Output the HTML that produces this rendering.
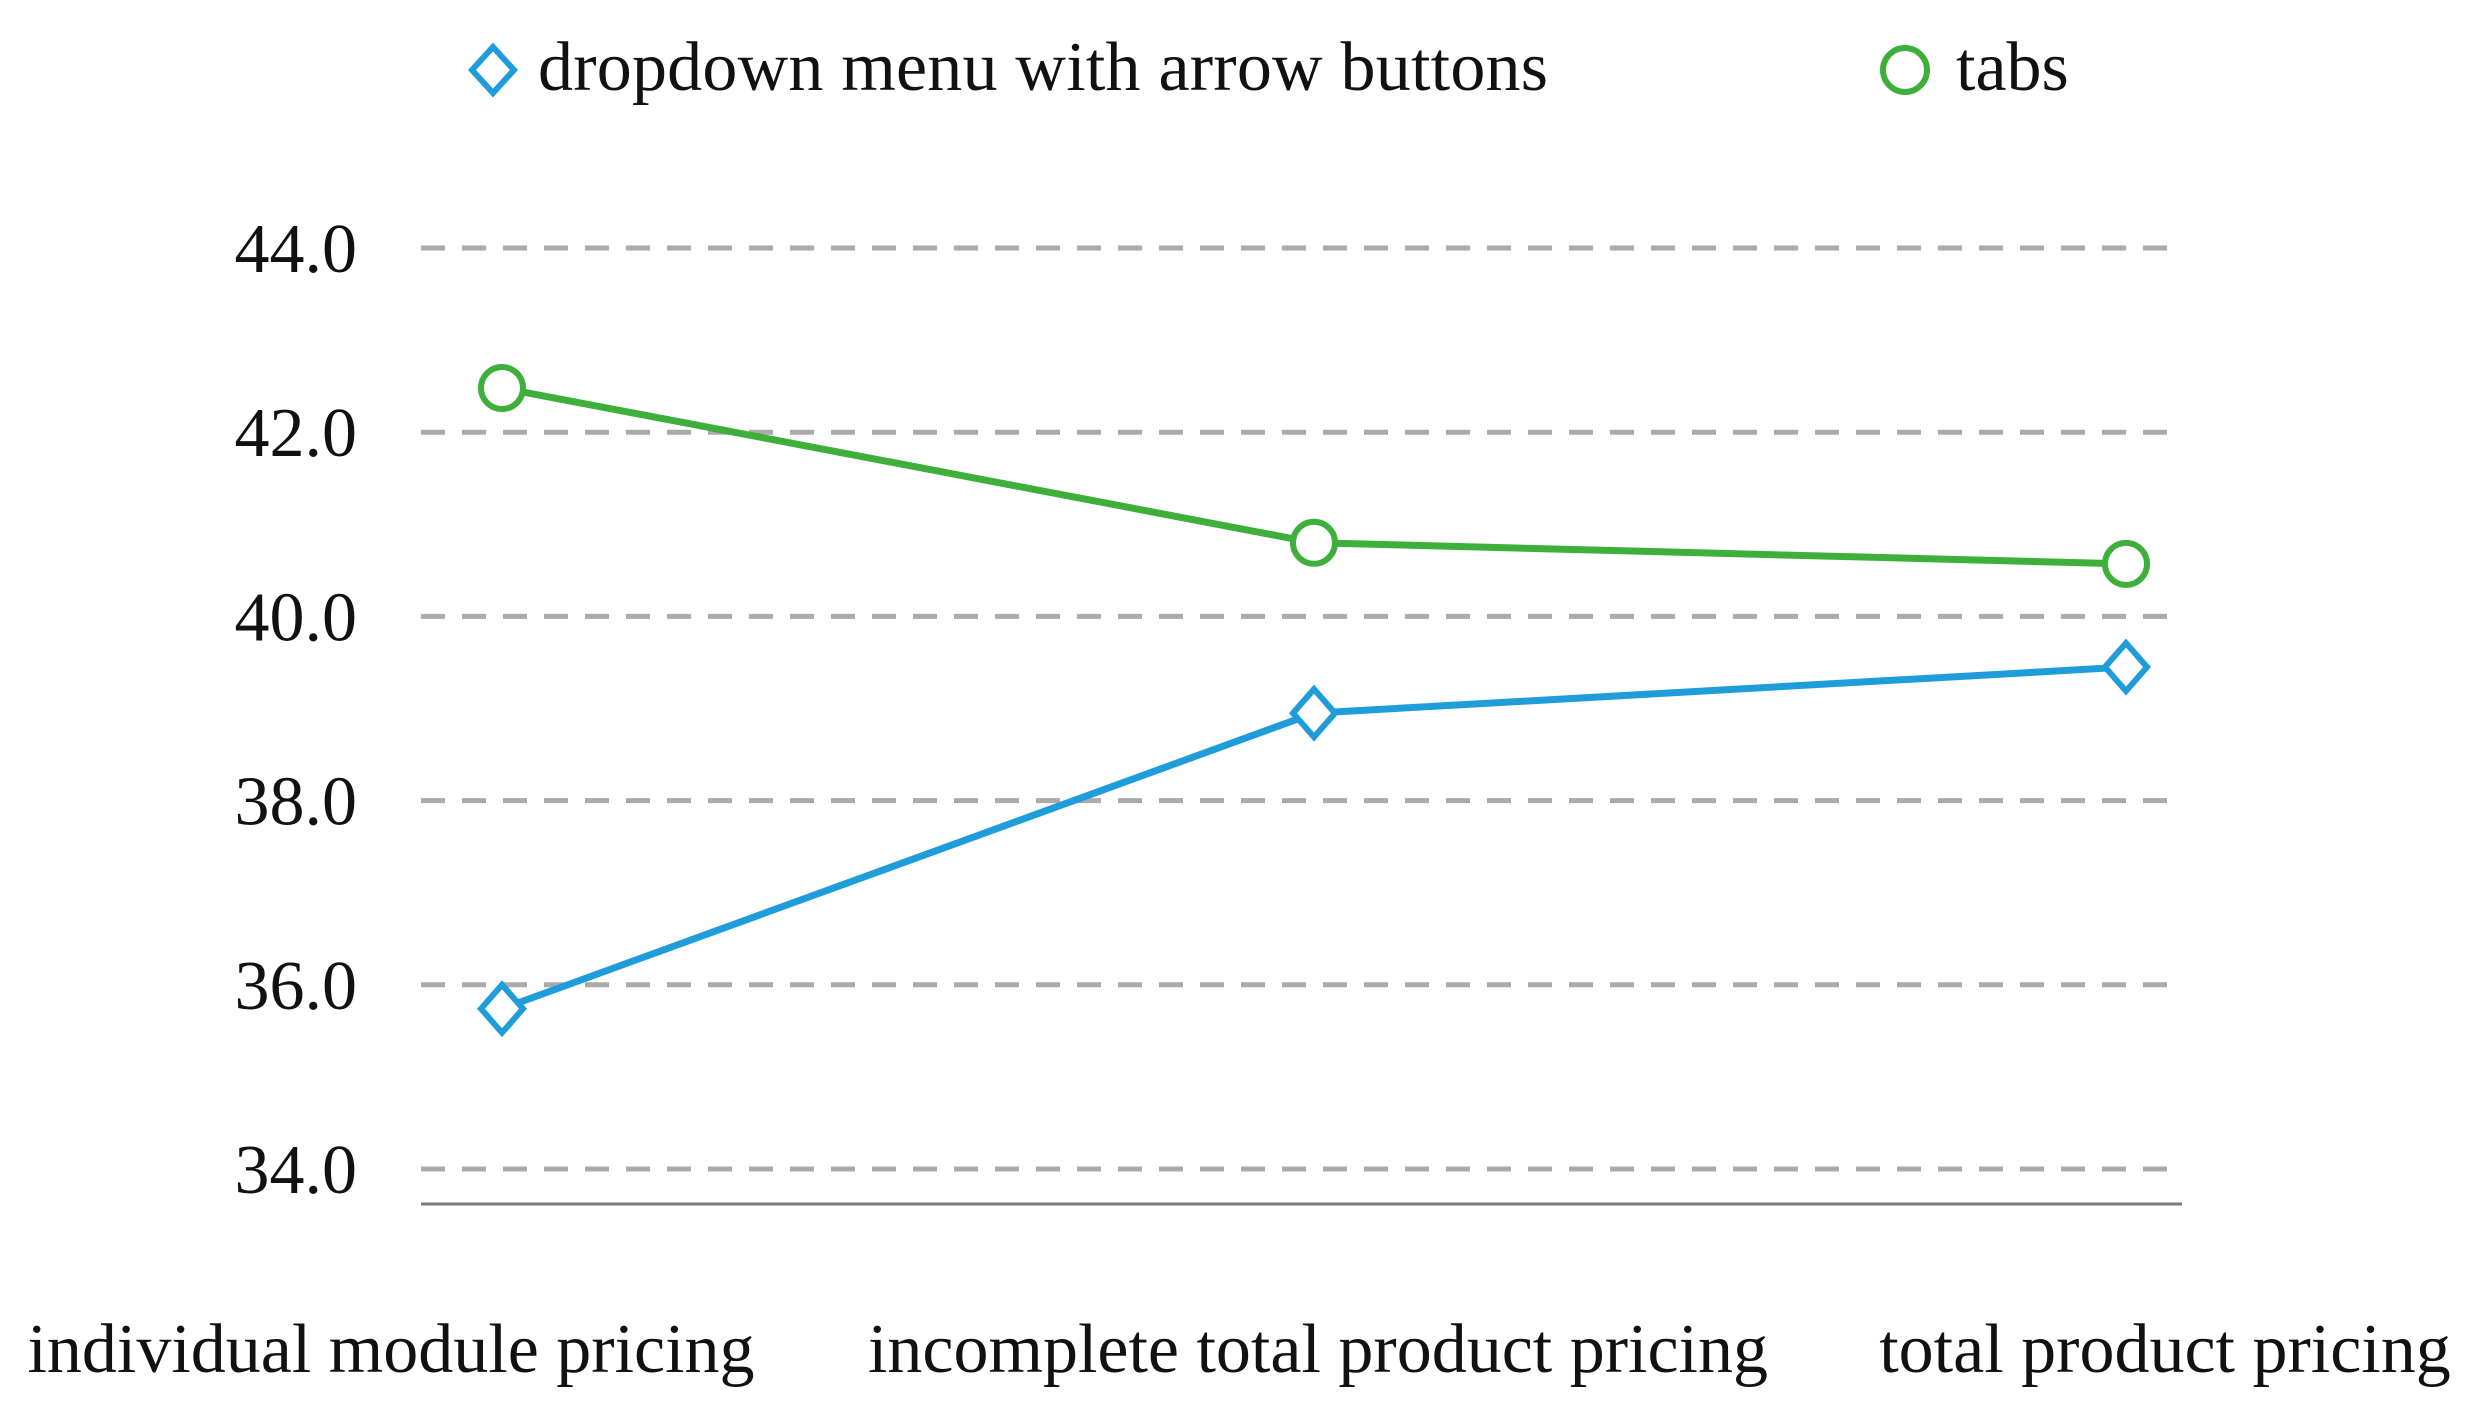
<!DOCTYPE html>
<html><head><meta charset="utf-8"><style>
html,body{margin:0;padding:0;background:#fff;}
svg{display:block;font-family:"Liberation Serif",serif;}
</style></head><body>
<svg id="chart" width="2476" height="1425" viewBox="0 0 2476 1425">
<g id="grid"></g>
<g id="yaxis"></g>
<line x1="421" y1="1204" x2="2182" y2="1204" stroke="#7a7a7a" stroke-width="3"/>
<g id="xaxis"></g>
<g id="series"></g>
<g>
 <g>
  <path d="M493 47 L514 70 L493 93 L472 70 Z" fill="#fff" stroke="#1f9ddb" stroke-width="6"/>
  <text x="538" y="90" font-size="70" fill="#111" textLength="1010">dropdown menu with arrow buttons</text>
 </g>
 <g>
  <circle cx="1905" cy="70" r="22" fill="#fff" stroke="#3daf3a" stroke-width="6"/>
  <text x="1956" y="90" font-size="70" fill="#111">tabs</text>
 </g>
</g>
</svg>
<script>
const categories = ["individual module pricing","incomplete total product pricing","total product pricing"];
const dropdownValues = [35.74, 38.95, 39.45];
const tabsValues = [42.48, 40.8, 40.57];
const yTicks = [34, 36, 38, 40, 42, 44];
const yTickLabels = ["34.0","36.0","38.0","40.0","42.0","44.0"];

const NS="http://www.w3.org/2000/svg";
const yMin=34, yMax=44, yBot=1169, yTop=248;
function y(v){return yBot-(v-yMin)/(yMax-yMin)*(yBot-yTop);}
function x(i){return 502+i*812;}
const labelX=[391,1318,2165];
function mk(tag,attrs,parent){const e=document.createElementNS(NS,tag);for(const k in attrs)e.setAttribute(k,attrs[k]);parent.appendChild(e);return e;}

const grid=document.getElementById('grid'), yaxis=document.getElementById('yaxis'), xaxis=document.getElementById('xaxis'), series=document.getElementById('series');
yTicks.forEach((t,i)=>{
  const l=mk('line',{x1:421,x2:2182,y1:y(t),y2:y(t),stroke:'#aaaaaa','stroke-width':5,'stroke-dasharray':'24 17'},grid);
  
  
  const tx=mk('text',{x:357,y:y(t)+24,'font-size':70,'text-anchor':'end',fill:'#111'},yaxis);
  tx.textContent=yTickLabels[i];
  
  
});
categories.forEach((c,i)=>{
  const tx=mk('text',{x:labelX[i],y:1372,'font-size':70,'text-anchor':'middle',fill:'#111'},xaxis);
  tx.textContent=c;
  
  
});
function drawSeries(vals,color,shape,name){
  const p=mk('polyline',{points:vals.map((v,i)=>x(i)+','+y(v)).join(' '),fill:'none',stroke:color,'stroke-width':7},series);
  
  
  vals.forEach((v,i)=>{
    let m;
    if(shape==='circle'){m=mk('circle',{cx:x(i),cy:y(v),r:21,fill:'#fff',stroke:color,'stroke-width':6},series);}
    else{const cx=x(i),cy=y(v);m=mk('path',{d:`M${cx} ${cy-24} L${cx+21} ${cy} L${cx} ${cy+24} L${cx-21} ${cy} Z`,fill:'#fff',stroke:color,'stroke-width':6},series);}
    
    
  });
}
drawSeries(tabsValues,'#3daf3a','circle','tabs');
drawSeries(dropdownValues,'#1f9ddb','diamond','dropdown');
</script>
</body></html>
